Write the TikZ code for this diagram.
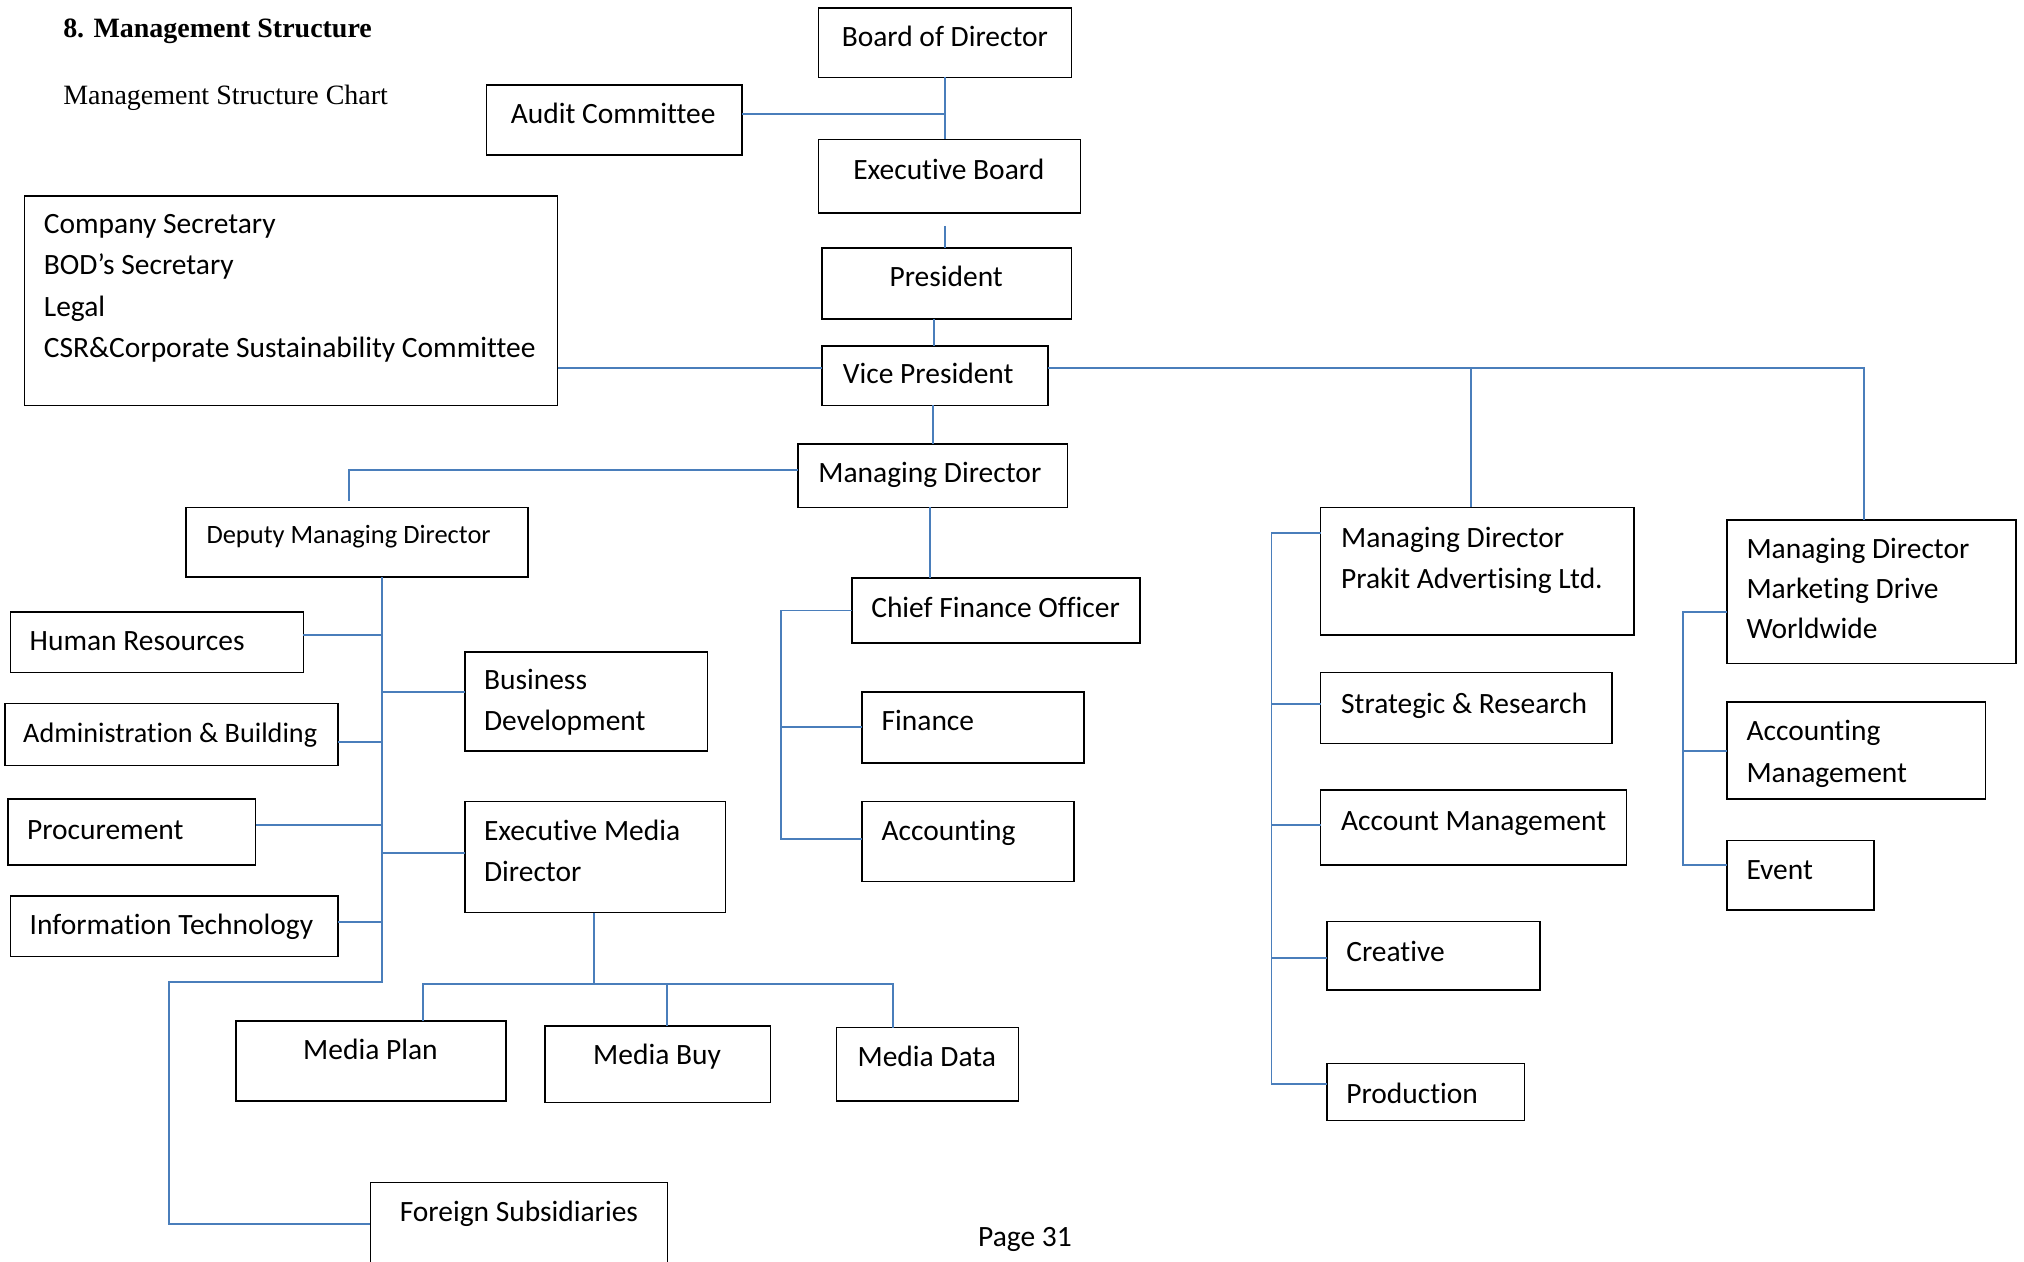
\documentclass[tikz,border=0pt]{standalone}
\usepackage{fontspec}
\setmainfont[Ligatures=NoCommon]{Carlito}
\newfontfamily\tnrfont{Liberation Serif}
\usetikzlibrary{calc}
\definecolor{connblue}{RGB}{74,126,187}
\tikzset{
 box/.style={draw=black, line width=0.75pt, rectangle, inner sep=0pt, outer sep=0pt, anchor=north west},
 conn/.style={draw=connblue, line width=0.85pt},
 lbl/.style={inner sep=0pt, outer sep=0pt, font=\fontsize{13.7}{16}\selectfont},
 lblL/.style={lbl, anchor=base west},
 lblC/.style={lbl, anchor=base},
 smalllbl/.style={inner sep=0pt, outer sep=0pt, anchor=base west, font=\fontsize{12.3}{14}\selectfont},
 midlbl/.style={inner sep=0pt, outer sep=0pt, anchor=base west, font=\fontsize{13.1}{15}\selectfont},
 titlelbl/.style={inner sep=0pt, outer sep=0pt, anchor=base west, font=\tnrfont\bfseries\fontsize{13}{15}\selectfont},
 sublbl/.style={inner sep=0pt, outer sep=0pt, anchor=base west, font=\tnrfont\fontsize{13}{15}\selectfont},
}
\newcommand{\mybox}[5]{\node[box, minimum width={(#4-#2)*0.6pt}, minimum height={(#5-#3)*0.6pt}] (#1) at (#2,#3) {};}
\begin{document}
\begin{tikzpicture}[x=0.6pt,y=-0.6pt]
\useasboundingbox (0,0) rectangle (1568,977);
\clip (0,0) rectangle (1568,977);
\fill[white] (0,0) rectangle (1568,977);

% titles
\node[titlelbl] (title) at (49,29) {8. Management Structure};
\node[sublbl] (subtitle) at (49,81) {Management Structure Chart};

% boxes
\mybox{bod}{634}{6}{830}{60}
\mybox{ac}{377}{66}{575}{120}
\mybox{eb}{634}{108}{837}{165}
\mybox{cs}{19}{152}{432}{314}
\mybox{pres}{637}{192}{830}{247}
\mybox{vp}{637}{268}{812}{314}
\mybox{md}{618}{344}{827}{393}
\mybox{dmd}{144}{393}{409}{447}
\mybox{hr}{8}{474}{235}{521}
\mybox{adm}{4}{545}{262}{593}
\mybox{proc}{6}{619}{198}{670}
\mybox{it}{8}{694}{262}{741}
\mybox{bd}{360}{505}{548}{582}
\mybox{emd}{360}{621}{562}{707}
\mybox{cfo}{660}{448}{883}{498}
\mybox{fin}{668}{536}{840}{591}
\mybox{acc}{668}{621}{832}{683}
\mybox{mp}{183}{791}{392}{853}
\mybox{mb}{422}{795}{597}{854}
\mybox{mdt}{648}{796}{789}{853}
\mybox{fs}{287}{916}{517}{1000}
\mybox{mdp}{1023}{393}{1266}{492}
\mybox{sr}{1023}{521}{1249}{576}
\mybox{am}{1023}{612}{1260}{670}
\mybox{cr}{1028}{714}{1193}{767}
\mybox{pr}{1028}{824}{1181}{868}
\mybox{mdm}{1338}{403}{1562}{514}
\mybox{acm}{1338}{544}{1538}{619}
\mybox{ev}{1338}{651}{1452}{705}

% labels
\node[lblC] (tbod) at (732,36) {Board of Director};
\node[lblC] (tac) at (475,96) {Audit Committee};
\node[lblC] (teb) at (735,139) {Executive Board};
\node[lblL] (tcs1) at (34,181) {Company Secretary};
\node[lblL] (tcs2) at (34,213) {BOD’s Secretary};
\node[lblL] (tcs3) at (34,245) {Legal};
\node[lblL] (tcs4) at (34,277) {CSR\&Corporate Sustainability Committee};
\node[lblC] (tpres) at (733,222) {President};
\node[lblL] (tvp) at (653,297) {Vice President};
\node[lblL] (tmd) at (634,374) {Managing Director};
\node[smalllbl] (tdmd) at (160,421) {Deputy Managing Director};
\node[lblL] (thr) at (23,504) {Human Resources};
\node[midlbl] (tadm) at (18,575) {Administration \& Building};
\node[lblL] (tproc) at (21,650) {Procurement};
\node[lblL] (tit) at (23,724) {Information Technology};
\node[lblL] (tbd1) at (375,534) {Business};
\node[lblL] (tbd2) at (375,566) {Development};
\node[lblL] (temd1) at (375,651) {Executive Media};
\node[lblL] (temd2) at (375,683) {Director};
\node[lblL] (tcfo) at (675,478) {Chief Finance Officer};
\node[lblL] (tfin) at (683,566) {Finance};
\node[lblL] (tacc) at (683,651) {Accounting};
\node[lblC] (tmp) at (287,821) {Media Plan};
\node[lblC] (tmb) at (509,825) {Media Buy};
\node[lblC] (tmdt) at (718,826) {Media Data};
\node[lblC] (tfs) at (402,946) {Foreign Subsidiaries};
\node[lblL] (tmdp1) at (1039,424) {Managing Director};
\node[lblL] (tmdp2) at (1039,456) {Prakit Advertising Ltd.};
\node[lblL] (tsr) at (1039,553) {Strategic \& Research};
\node[lblL] (tam) at (1039,643) {Account Management};
\node[lblL] (tcr) at (1043,745) {Creative};
\node[lblL] (tpr) at (1043,855) {Production};
\node[lblL] (tmdm1) at (1353,433) {Managing Director};
\node[lblL] (tmdm2) at (1353,464) {Marketing Drive};
\node[lblL] (tmdm3) at (1353,495) {Worldwide};
\node[lblL] (tacm1) at (1353,574) {Accounting};
\node[lblL] (tacm2) at (1353,606) {Management};
\node[lblL] (tev) at (1353,681) {Event};
\node[lblC] (tpage) at (794,966) {Page 31};

% connectors: top
\draw[conn] (bod.south) -- (bod.south |- eb.north);
\coordinate (acj) at ($(ac.north east)+(0,22)$);
\draw[conn] (acj) -- (acj -| bod.south);
\coordinate (e1) at ($(bod.south |- eb.south)+(0,10)$);
\draw[conn] (e1) -- (e1 |- pres.north);
\coordinate (p0) at ($(vp.north)+(-1,0)$);
\draw[conn] (p0) -- (p0 |- pres.south);
\coordinate (vpj) at ($(vp.north west)+(0,17)$);
\draw[conn] (cs.east |- vpj) -- (vpj);
\coordinate (vpjr) at ($(vp.north east)+(0,17)$);
\coordinate (mdmj) at ($(mdm.north)+(-6,0)$);
\draw[conn] (vpjr) -| (mdmj);
\coordinate (mdpj) at ($(mdp.north)+(-5,0)$);
\draw[conn] (mdpj) -- (mdpj |- vpj);
\draw[conn] (vp.south -| md.north) -- (md.north);

% MD to DMD and CFO
\coordinate (m1) at ($(md.north west)+(0,20)$);
\coordinate (dmdj) at ($(dmd.north)+(-6,-5)$);
\draw[conn] (m1) -| (dmdj);
\coordinate (m2) at ($(md.south)+(-2,0)$);
\draw[conn] (m2) -- (m2 |- cfo.north);

% CFO bracket
\coordinate (cb) at ($(cfo.west)+(-55,0)$);
\draw[conn] (cfo.west) -- (cb) |- ($(acc.west)+(0,-2)$);
\draw[conn] (cb |- fin.west) -- (fin.west);

% DMD trunk
\coordinate (d0) at ($(dmd.south west)+(152,0)$);
\coordinate (d1) at ($(d0)+(0,314)$);
\coordinate (d2) at ($(d1)+(-165,0)$);
\coordinate (fsj) at ($(fs.north west)+(0,32)$);
\draw[conn] (d0) -- (d1) -- (d2) |- (fsj);
\coordinate (hrj) at ($(hr.north east)+(0,18)$);
\draw[conn] (hrj) -- (hrj -| d0);
\coordinate (admj) at ($(adm.north east)+(0,30)$);
\draw[conn] (admj) -- (admj -| d0);
\coordinate (procj) at ($(proc.north east)+(0,20)$);
\draw[conn] (procj) -- (procj -| d0);
\coordinate (itj) at ($(it.north east)+(0,20)$);
\draw[conn] (itj) -- (itj -| d0);
\coordinate (bdj) at ($(bd.north west)+(0,31)$);
\draw[conn] (bdj) -- (bdj -| d0);
\coordinate (emdj) at ($(emd.north west)+(0,40)$);
\draw[conn] (emdj) -- (emdj -| d0);

% EMD bus
\coordinate (emdb) at ($(emd.south)+(-1,0)$);
\coordinate (bus) at ($(emdb)+(0,55)$);
\draw[conn] (emdb) -- (bus);
\coordinate (mpj) at ($(mp.north)+(40,0)$);
\coordinate (mbj) at ($(mb.north)+(7,0)$);
\coordinate (mdj) at ($(mdt.north)+(-27,0)$);
\draw[conn] (mpj) -- (mpj |- bus) -- (mdj |- bus) -- (mdj);
\draw[conn] (mbj) -- (mbj |- bus);

% Prakit bracket
\coordinate (mdpw) at ($(mdp.north west)+(0,20)$);
\coordinate (pb) at ($(mdpw)+(-38,0)$);
\coordinate (prj) at ($(pr.north west)+(0,16)$);
\draw[conn] (mdpw) -- (pb) |- (prj);
\coordinate (srj) at ($(sr.north west)+(0,24.3)$);
\draw[conn] (pb |- srj) -- (srj);
\coordinate (amj) at ($(am.north west)+(0,27)$);
\draw[conn] (pb |- amj) -- (amj);
\coordinate (crj) at ($(cr.north west)+(0,28)$);
\draw[conn] (pb |- crj) -- (crj);

% Marketing bracket
\coordinate (mdmw) at ($(mdm.north west)+(0,71)$);
\coordinate (mb0) at ($(mdmw)+(-34,0)$);
\coordinate (evj) at ($(ev.north west)+(0,19)$);
\draw[conn] (mdmw) -- (mb0) |- (evj);
\coordinate (acmj) at ($(acm.north west)+(0,38)$);
\draw[conn] (mb0 |- acmj) -- (acmj);
\end{tikzpicture}
\end{document}
